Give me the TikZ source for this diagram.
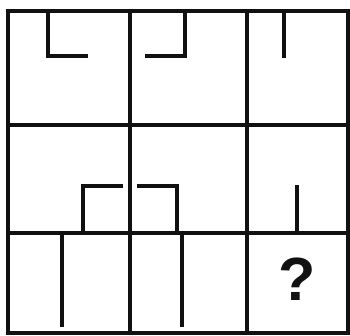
\documentclass[tikz,border=0pt]{standalone}
\usepackage{fontspec}
\setsansfont{Liberation Sans}
\usetikzlibrary{positioning}
\definecolor{ink}{HTML}{111111}

\begin{document}
\begin{tikzpicture}[x=1pt,y=-1pt,
    frame/.style={draw=ink,line width=4.5pt},
    stroke/.style={draw=ink,line width=4pt,line join=miter}]
  \useasboundingbox (0,0) rectangle (350,336);
  \draw[frame] (8,11) rectangle (348,333);
  \foreach \x in {130,247}
    \draw[frame] (\x,11) -- (\x,333);
  \foreach \y in {125,233}
    \draw[frame] (8,\y) -- (348,\y);
  % top row
  \draw[stroke] (48,11) -- (48,56) -- (88,56);
  \draw[stroke] (185,11) -- (185,56) -- (145,56);
  \draw[stroke] (284,11) -- (284,58);
  % middle row
  \draw[stroke] (123,186) -- (83,186) -- (83,233);
  \draw[stroke] (137,186) -- (177,186) -- (177,233);
  \draw[stroke] (297,185) -- (297,233);
  % bottom row
  \draw[stroke] (62,233) -- (62,327);
  \draw[stroke] (182,233) -- (182,327);
  \node[text=ink,font=\sffamily\bfseries\fontsize{61}{66}\selectfont] (ask) at (297,279) {?};
\end{tikzpicture}
\end{document}
